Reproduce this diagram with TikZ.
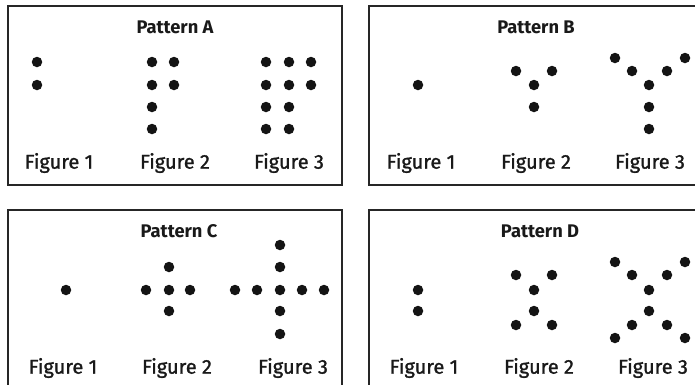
\documentclass[tikz,border=0pt]{standalone}
\usepackage{fontspec}
\setmainfont{Fira Sans}
\newfontfamily\labfont{Fira Sans}[FakeBold=1.2]
\begin{document}
\begin{tikzpicture}[x=1pt,y=-1pt,
  panel/.style={draw=black!85,line width=1.1pt},
  title/.style={font=\fontsize{18.3}{20}\selectfont\bfseries,text=black!90},
  figlabel/.style={font=\labfont\fontsize{20}{22}\selectfont,text=black!90},
  dot/.style={circle,fill=black!92,inner sep=0pt,minimum size=10.5pt}]
\useasboundingbox (0,0) rectangle (695,384);
\begin{scope}
\clip (0,0) rectangle (695,384);
% panels
\draw[panel] (8,6) rectangle (342,185);
\draw[panel] (369,6) rectangle (720,185);
\draw[panel] (8,210) rectangle (342,400);
\draw[panel] (369,210) rectangle (720,400);
\end{scope}

% ---------- Pattern A ----------
\node[title] (tA) at (175,27) {Pattern A};
\foreach \y in {62,85} \node[dot] at (37,\y) {};
\foreach \y in {62,85,107,129} \node[dot] at (152,\y) {};
\foreach \y in {62,85} \node[dot] at (174,\y) {};
\foreach \y in {62,85,107,129} {\node[dot] at (266,\y) {}; \node[dot] at (289,\y) {};}
\foreach \y in {62,85} \node[dot] at (311,\y) {};
\node[figlabel] (a1) at (59,163) {Figure 1};
\node[figlabel] (a2) at (175,163) {Figure 2};
\node[figlabel] (a3) at (289,163) {Figure 3};

% ---------- Pattern B ----------
\node[title] (tB) at (536,27) {Pattern B};
\node[dot] at (418,85) {};
\foreach \p in {(516,71),(552,71),(534,85),(534,107)} \node[dot] at \p {};
\foreach \p in {(615,58),(685,58),(632,71),(667,71),(649,85),(649,107),(649,129)} \node[dot] at \p {};
\node[figlabel] (b1) at (421,163) {Figure 1};
\node[figlabel] (b2) at (536,163) {Figure 2};
\node[figlabel] (b3) at (650,163) {Figure 3};

% ---------- Pattern C ----------
\node[title] (tC) at (179,231) {Pattern C};
\node[dot] at (66,290) {};
\foreach \p in {(146,290),(169,290),(190,290),(169,267),(169,311)} \node[dot] at \p {};
\foreach \x in {235,257,280,302,324} \node[dot] at (\x,290) {};
\foreach \y in {245,267,311,334} \node[dot] at (280,\y) {};
\node[figlabel] (c1) at (63,368) {Figure 1};
\node[figlabel] (c2) at (177,368) {Figure 2};
\node[figlabel] (c3) at (293,368) {Figure 3};

% ---------- Pattern D ----------
\node[title] (tD) at (540,231) {Pattern D};
\foreach \y in {290,311} \node[dot] at (418,\y) {};
\foreach \p in {(534,290),(534,311),(516,275),(552,275),(516,325),(552,325)} \node[dot] at \p {};
\foreach \p in {(649,290),(649,311),(632,275),(667,275),(615,262),(685,262),
                (632,325),(667,325),(615,338),(685,338)} \node[dot] at \p {};
\node[figlabel] (d1) at (424,368) {Figure 1};
\node[figlabel] (d2) at (539,368) {Figure 2};
\node[figlabel] (d3) at (653,368) {Figure 3};
\end{tikzpicture}
\end{document}
